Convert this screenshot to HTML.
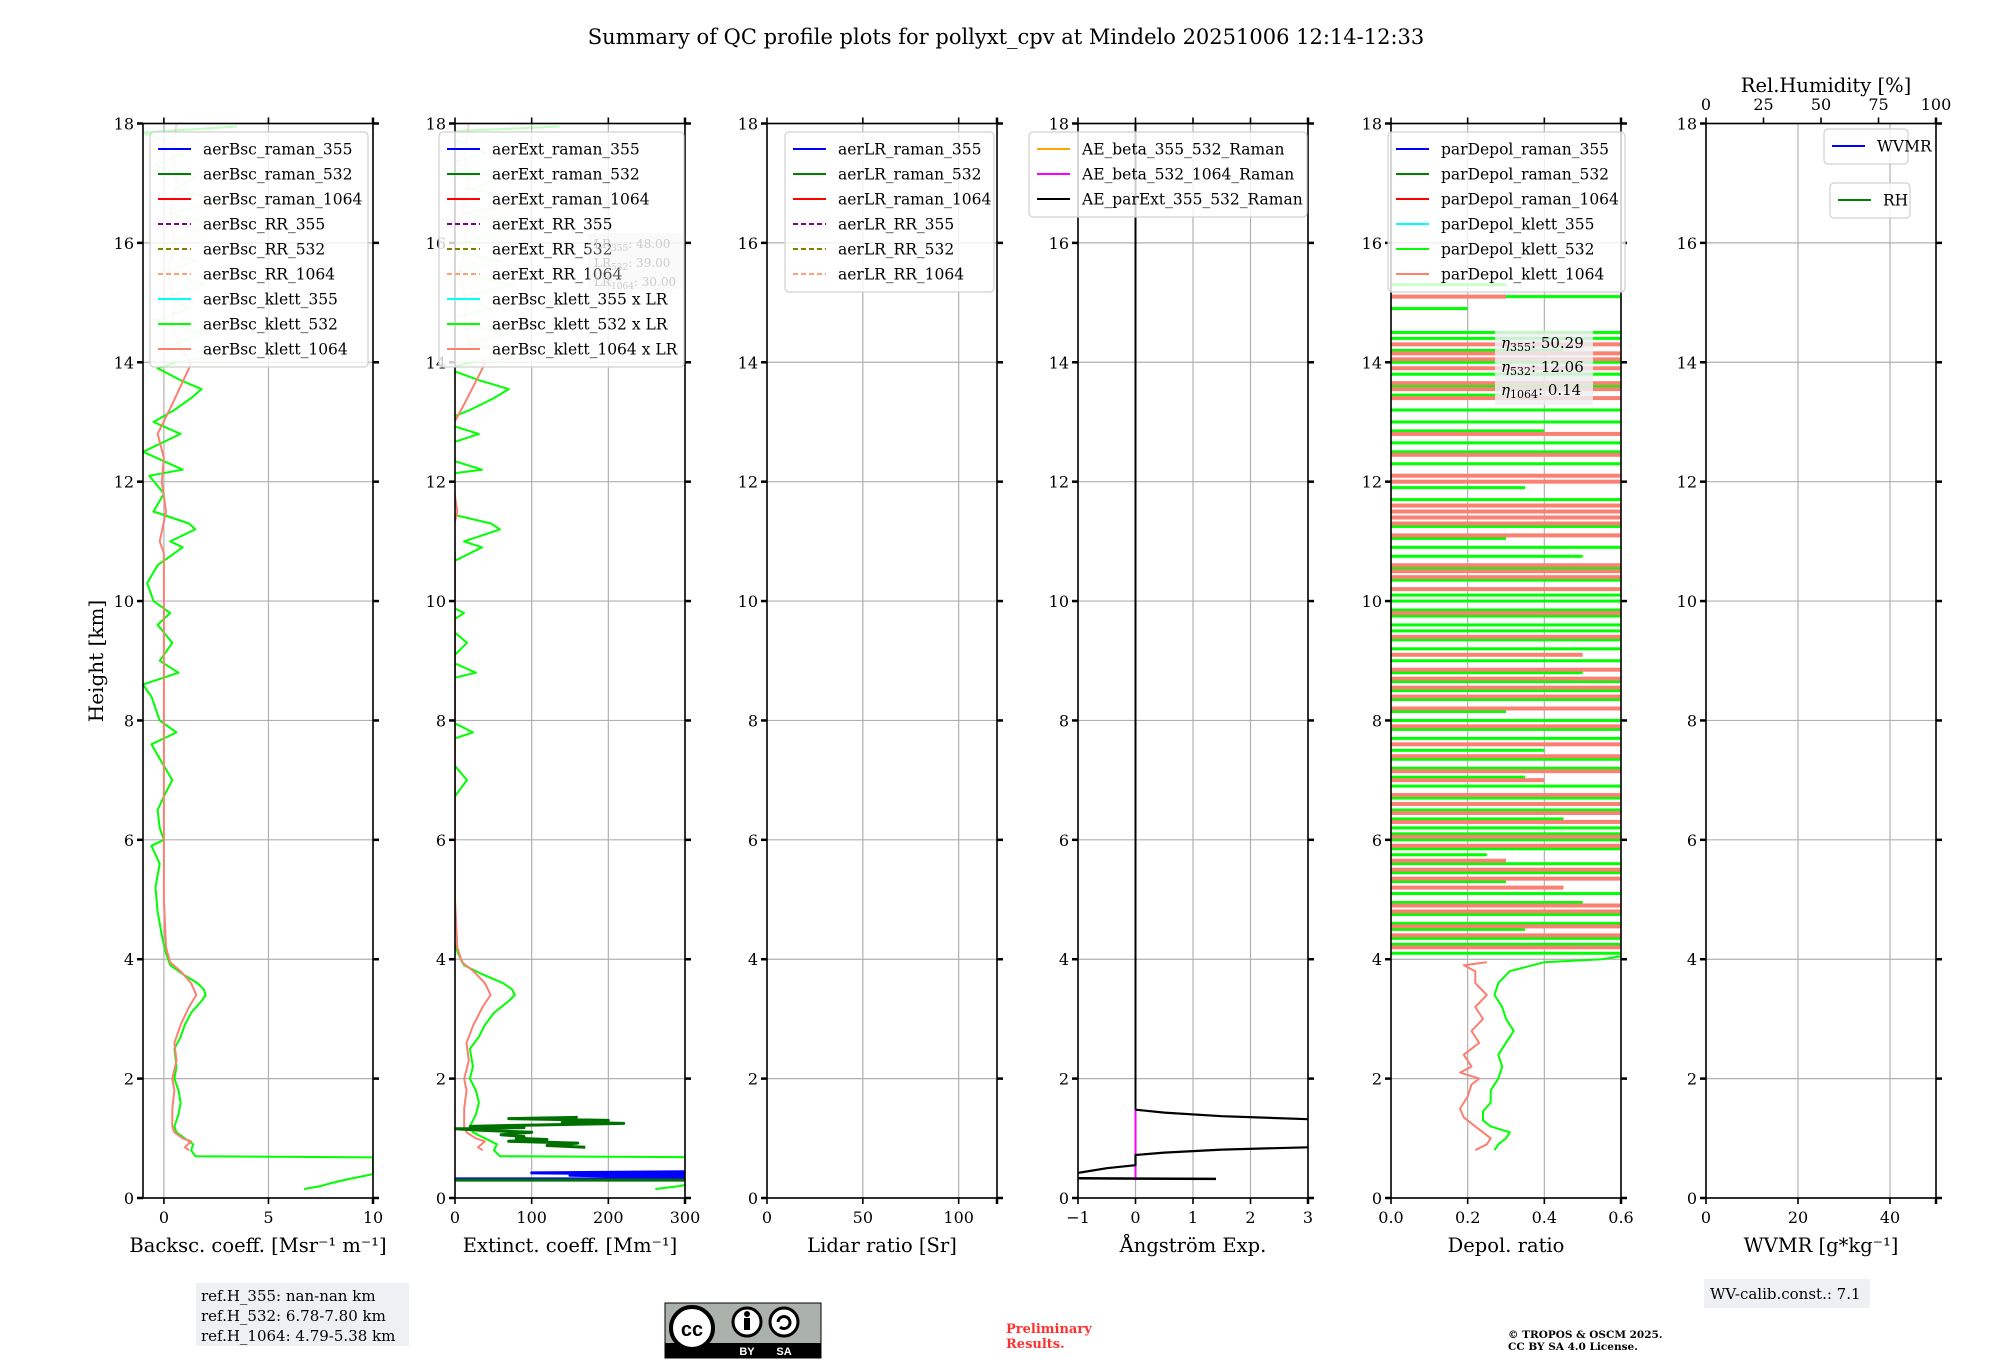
<!DOCTYPE html>
<html><head><meta charset="utf-8"><style>
html,body{margin:0;padding:0;background:#fff;}
svg{display:block;font-family:"DejaVu Serif","Liberation Serif",serif;}
</style></head><body>
<svg id="fig" width="2000" height="1360" viewBox="0 0 2000 1360" xmlns="http://www.w3.org/2000/svg">
<text x="1006" y="44" font-size="21" text-anchor="middle">Summary of QC profile plots for pollyxt_cpv at Mindelo 20251006 12:14-12:33</text>
<text transform="translate(103,661) rotate(-90)" font-size="20" text-anchor="middle">Height [km]</text>
<g id="plots"></g>
<rect x="196" y="1283" width="213" height="63" fill="#eff0f4"/>
<text x="201" y="1301" font-size="15">ref.H_355: nan-nan km</text>
<text x="201" y="1321" font-size="15">ref.H_532: 6.78-7.80 km</text>
<text x="201" y="1341" font-size="15">ref.H_1064: 4.79-5.38 km</text>
<g>
<rect x="665" y="1303" width="156" height="55" fill="#aab2ab" stroke="#000" stroke-width="1"/>
<rect x="665" y="1343" width="156" height="15" fill="#000"/>
<circle cx="692" cy="1328" r="21" fill="#fff" stroke="#000" stroke-width="4"/>
<text x="692" y="1336" font-size="20" font-weight="bold" text-anchor="middle" font-family="Liberation Sans,sans-serif">cc</text>
<circle cx="747" cy="1322" r="14" fill="#fff" stroke="#000" stroke-width="3"/>
<circle cx="747" cy="1314" r="3" fill="#000"/><rect x="744" y="1318" width="6" height="12" fill="#000"/>
<circle cx="784" cy="1322" r="14" fill="#fff" stroke="#000" stroke-width="3"/>
<path d="M778 1322 a6 6 0 1 1 2 5" fill="none" stroke="#000" stroke-width="3"/>
<text x="747" y="1355" font-size="11" fill="#fff" text-anchor="middle" font-family="Liberation Sans,sans-serif" font-weight="bold">BY</text>
<text x="784" y="1355" font-size="11" fill="#fff" text-anchor="middle" font-family="Liberation Sans,sans-serif" font-weight="bold">SA</text>
</g>
<text x="1006" y="1333" font-size="13" font-weight="bold" fill="#ff3030">Preliminary</text>
<text x="1006" y="1348" font-size="13" font-weight="bold" fill="#ff3030">Results.</text>
<text x="1508" y="1338" font-size="10.5" font-weight="bold">© TROPOS &amp; OSCM 2025.</text>
<text x="1508" y="1350" font-size="10.5" font-weight="bold">CC BY SA 4.0 License.</text>
<rect x="1704" y="1279" width="166" height="29" fill="#eff0f4"/>
<text x="1710" y="1299" font-size="15">WV-calib.const.: 7.1</text>
</svg>
<script>
// ---------- data ----------
const bscH532 = [0.15,0.2,0.25,0.3,0.4,0.68,0.7,0.8,0.9,1.0,1.1,1.2,1.4,1.6,1.8,2.0,2.2,2.5,2.7,2.9,3.1,3.3,3.4,3.5,3.6,3.75,3.9,4.1,4.4,4.8,5.2,5.6,5.9,6.0,6.2,6.5,6.8,7.0,7.3,7.6,7.8,8.0,8.4,8.6,8.8,9.0,9.3,9.6,9.8,10.0,10.3,10.6,10.9,11.0,11.2,11.3,11.5,11.8,12.1,12.2,12.5,12.8,13.0,13.2,13.4,13.55,13.7,13.9,14.0];
const bsc532 = [6.7,7.5,8.0,8.6,10,10,1.5,1.3,1.4,1.0,0.6,0.5,0.7,0.8,0.7,0.5,0.6,0.5,0.8,1.0,1.3,1.8,2.0,1.9,1.6,0.9,0.3,0.1,-0.1,-0.3,-0.4,-0.2,-0.6,0.0,-0.2,-0.3,0.1,0.4,-0.1,-0.6,0.6,-0.2,-0.6,-1.0,0.7,-0.2,0.4,-0.3,0.3,-0.5,-0.8,-0.3,0.9,0.3,1.5,1.2,-0.5,0.0,-0.7,0.9,-1.0,0.8,-0.5,0.5,1.3,1.8,0.8,-0.3,0.6];
const bscHiH532 = [14.0,14.1,14.3,14.5,14.7,14.9,15.1,15.3,15.5,15.7,15.9,16.1,16.3,16.5,16.7,16.9,17.1,17.3,17.5,17.7,17.85,17.95];
const bscHi532 = [0.6,2.5,0.5,1.8,-0.5,1.2,0.2,2.0,0.0,1.5,-0.3,1.0,2.2,0.3,2.8,0.5,1.5,-0.5,1.0,0.2,-1.0,3.5];
const bscH1064 = [0.8,0.85,0.95,1.0,1.1,1.2,1.5,1.8,2.0,2.3,2.6,2.9,3.2,3.4,3.6,3.8,3.95,4.2,5,6,7,8,9,10,10.8,11.0,11.5,12,12.4,12.8,13.3,13.6,13.9,14.0];
const bsc1064 = [1.2,1.0,1.3,0.9,0.5,0.4,0.4,0.5,0.4,0.6,0.5,0.8,1.2,1.55,1.3,0.8,0.3,0.1,0.0,0.0,0.0,0.0,0.0,0.0,0.0,-0.2,0.1,-0.1,0.0,-0.3,0.4,0.8,1.2,1.3];
const bscHiH1064 = [14.0,14.2,14.6,15,15.5,16,16.5,17,17.5,18];
const bscHi1064 = [1.3,0.8,0.4,0.5,0.2,0.5,0.3,0.6,0.4,0.6];
const lr532 = 39, lr1064 = 30;
const extRamanLowH532 = [0.3,0.3];
const extRamanLow532 = [0,300];
const extRamanH532 = [0.85,0.88,0.92,0.95,0.98,1.0,1.03,1.06,1.1,1.13,1.16,1.18,1.2,1.22,1.25,1.27,1.3,1.33,1.35];
const extRaman532 = [170,120,160,70,120,80,90,60,100,40,0,90,20,90,220,140,200,70,160];
const extRamanH355 = [0.32,0.32,0.35,0.38,0.4,0.42,0.44];
const extRaman355 = [0,300,300,150,300,100,300];
const aeLowH = [0.33,0.32];
const aeLow = [-1,1.4];
const aeMidH = [0.42,0.5,0.55,0.72,0.76,0.81,0.85];
const aeMid = [-1,-0.5,0,0,0.5,1.5,3];
const aeTopH = [1.48,1.43,1.37,1.32];
const aeTop = [0,0.5,1.5,3];
const depH1064 = [0.8,0.9,1.0,1.1,1.2,1.35,1.5,1.7,1.9,2.0,2.1,2.2,2.4,2.6,2.8,3.0,3.2,3.4,3.6,3.8,3.9,3.95];
const dep1064 = [0.22,0.25,0.26,0.24,0.22,0.19,0.18,0.2,0.21,0.23,0.18,0.21,0.19,0.23,0.21,0.24,0.22,0.25,0.22,0.22,0.19,0.25];
const depH532 = [0.8,0.9,1.0,1.1,1.2,1.3,1.45,1.6,1.8,2.0,2.2,2.4,2.6,2.8,3.0,3.2,3.4,3.6,3.8,3.95,4.0,4.05];
const dep532 = [0.27,0.28,0.30,0.31,0.26,0.24,0.24,0.26,0.26,0.28,0.29,0.28,0.30,0.32,0.30,0.29,0.27,0.28,0.31,0.4,0.55,0.6];
const depBarH532 = [4.1,4.25,4.35,4.5,4.6,4.75,4.95,5.1,5.3,5.45,5.6,5.75,5.85,6.0,6.1,6.2,6.35,6.5,6.7,6.9,7.05,7.2,7.35,7.5,7.7,7.85,8.0,8.15,8.35,8.5,8.65,8.8,9.0,9.2,9.35,9.5,9.6,9.75,9.85,10.0,10.1,10.35,10.55,10.75,10.9,11.05,11.25,11.5,11.7,11.9,12.1,12.3,12.5,12.65,12.85,13.0,13.2,13.45,13.6,13.8,14.0,14.2,14.4,14.5,14.9,15.1,15.3];
const depBar532 = [0.6,0.6,0.6,0.35,0.6,0.6,0.5,0.6,0.3,0.6,0.6,0.25,0.6,0.6,0.6,0.6,0.45,0.6,0.6,0.6,0.35,0.6,0.6,0.4,0.6,0.6,0.6,0.3,0.6,0.6,0.6,0.5,0.6,0.6,0.6,0.6,0.6,0.6,0.6,0.6,0.6,0.6,0.6,0.5,0.6,0.3,0.6,0.6,0.6,0.35,0.6,0.6,0.6,0.6,0.4,0.6,0.6,0.3,0.6,0.6,0.6,0.45,0.6,0.6,0.2,0.6,0.3];
const depBarH1064 = [4.2,4.4,4.55,4.8,4.9,5.2,5.35,5.5,5.65,5.9,6.05,6.3,6.45,6.6,6.75,7.0,7.15,7.4,7.6,7.9,8.2,8.4,8.55,8.7,8.85,9.1,9.4,9.8,10.2,10.4,10.5,10.6,11.1,11.3,11.4,11.5,11.6,12.0,12.1,12.45,12.8,13.4,13.55,13.65,13.9,14.05,14.15,14.3,15.1];
const depBar1064 = [0.6,0.6,0.6,0.6,0.6,0.45,0.6,0.6,0.3,0.6,0.6,0.6,0.6,0.6,0.6,0.4,0.6,0.6,0.6,0.6,0.6,0.6,0.6,0.6,0.6,0.5,0.6,0.6,0.6,0.6,0.6,0.6,0.6,0.6,0.6,0.6,0.6,0.6,0.6,0.6,0.6,0.6,0.6,0.6,0.6,0.6,0.6,0.6,0.3];
const yTicks = [0,2,4,6,8,10,12,14,16,18];

// ---------- layout ----------
const NS = "http://www.w3.org/2000/svg";
const root = document.getElementById('plots');
const TOP = 123.5, BOT = 1198, W = 230;
function sy(h){ return BOT - (h/18)*(BOT-TOP); }
const panels = [
 {name:'backscatter', left:143, xmin:-1, xmax:10, ticks:[0,5,10], tl:['0','5','10'], label:'Backsc. coeff. [Msr\u207B\u00B9 m\u207B\u00B9]'},
 {name:'extinction', left:455, xmin:0, xmax:300, ticks:[0,100,200,300], tl:['0','100','200','300'], label:'Extinct. coeff. [Mm\u207B\u00B9]'},
 {name:'lidar-ratio', left:767, xmin:0, xmax:120, ticks:[0,50,100], tl:['0','50','100'], label:'Lidar ratio [Sr]'},
 {name:'angstrom', left:1078, xmin:-1, xmax:3, ticks:[-1,0,1,2,3], tl:['\u22121','0','1','2','3'], label:'\u00C5ngstr\u00F6m Exp.'},
 {name:'depol', left:1391, xmin:0, xmax:0.6, ticks:[0,0.2,0.4,0.6], tl:['0.0','0.2','0.4','0.6'], label:'Depol. ratio'},
 {name:'wvmr', left:1706, xmin:0, xmax:50, ticks:[0,20,40], tl:['0','20','40'], label:'WVMR [g*kg\u207B\u00B9]'}
];
function mk(tag, attrs, parent){
  const e = document.createElementNS(NS, tag);
  for (const k in attrs) e.setAttribute(k, attrs[k]);
  (parent||root).appendChild(e);
  return e;
}
function sxf(p){ return v => p.left + (v-p.xmin)/(p.xmax-p.xmin)*W; }
function line(p, g, xs, hs, color, width, opacity){
  const sx = sxf(p);
  const pts = xs.map((v,i)=> sx(v).toFixed(1)+','+sy(hs[i]).toFixed(1)).join(' ');
  return mk('polyline', {points:pts, fill:'none', stroke:color, 'stroke-width':width||2, 'stroke-opacity':opacity||1, 'stroke-linejoin':'round'}, g);
}
function bars(p, g, vals, hs, color, th){
  const sx = sxf(p);
  vals.forEach((v,i)=>{
    const r = mk('rect', {x:sx(0), y:sy(hs[i])-th/2, width:Math.max(0,sx(v)-sx(0)), height:th, fill:color}, g);
    
    
  });
}

panels.forEach((p,idx)=>{
  const sx = sxf(p);
  const g = mk('g', {});
  
  
  const clip = mk('clipPath', {id:'clip'+idx}, g);
  mk('rect', {x:p.left, y:TOP, width:W, height:BOT-TOP}, clip);
  yTicks.forEach(t=>{ mk('line',{x1:p.left,x2:p.left+W,y1:sy(t),y2:sy(t),stroke:'#b0b0b0','stroke-width':1.2},g); });
  p.ticks.forEach(t=>{ mk('line',{x1:sx(t),x2:sx(t),y1:TOP,y2:BOT,stroke:'#b0b0b0','stroke-width':1.2},g); });
  const data = mk('g', {'clip-path':'url(#clip'+idx+')'}, g);
  
  
  if (idx===0){
    line(p,data,bscHi532,bscHiH532,'#00ff00',2,0.25);
    line(p,data,bscHi1064,bscHiH1064,'#fa8072',2,0.3);
    line(p,data,bsc532,bscH532,'#00ff00',2);
    line(p,data,bsc1064,bscH1064,'#fa8072',2);
  } else if (idx===1){
    line(p,data,bscHi532.map(v=>v*lr532),bscHiH532,'#00ff00',2,0.25);
    line(p,data,bscHi1064.map(v=>v*lr1064),bscHiH1064,'#fa8072',2,0.3);
    line(p,data,bsc532.map(v=>v*lr532),bscH532,'#00ff00',2);
    line(p,data,bsc1064.map(v=>v*lr1064),bscH1064,'#fa8072',2);
    line(p,data,extRaman355,extRamanH355,'#0000ff',3);
    line(p,data,extRamanLow532,extRamanLowH532,'#007000',3);
    line(p,data,extRaman532,extRamanH532,'#007000',3);
  } else if (idx===3){
    line(p,data,[0,0],[0.3,1.5],'#ff00ff',2);
    line(p,data,[0,0],[1.48,18],'#000',2);
    line(p,data,aeLow,aeLowH,'#000',2.5);
    line(p,data,aeMid,aeMidH,'#000',2.2);
    line(p,data,aeTop,aeTopH,'#000',2.2);
  } else if (idx===4){
    bars(p,data,depBar532,depBarH532,'#00ff00',3);
    bars(p,data,depBar1064,depBarH1064,'#fa8072',4);
    line(p,data,dep1064,depH1064,'#fa8072',2);
    line(p,data,dep532,depH532,'#00ff00',2);
  }
  mk('rect',{x:p.left,y:TOP,width:W,height:BOT-TOP,fill:'none',stroke:'#000','stroke-width':1.6},g);
  yTicks.forEach(t=>{
    mk('line',{x1:p.left-6,x2:p.left,y1:sy(t),y2:sy(t),stroke:'#000','stroke-width':2.5},g);
    mk('line',{x1:p.left+W,x2:p.left+W+6,y1:sy(t),y2:sy(t),stroke:'#000','stroke-width':2.5},g);
    const tx = mk('text',{x:p.left-9,y:sy(t)+6,'font-size':16,'text-anchor':'end'},g);
    tx.textContent = String(t);
    
    
  });
  p.ticks.forEach((t,i)=>{
    mk('line',{x1:sx(t),x2:sx(t),y1:BOT,y2:BOT+6,stroke:'#000','stroke-width':1.6},g);
    if (idx!==5) mk('line',{x1:sx(t),x2:sx(t),y1:TOP-6,y2:TOP,stroke:'#000','stroke-width':1.6},g);
    const tx = mk('text',{x:sx(t),y:BOT+25,'font-size':16,'text-anchor':'middle'},g);
    tx.textContent = p.tl[i];
    
    
  });
  mk('line',{x1:p.left+W,x2:p.left+W,y1:TOP-6,y2:TOP,stroke:'#000','stroke-width':2.5},g);
  mk('line',{x1:p.left+W,x2:p.left+W,y1:BOT,y2:BOT+6,stroke:'#000','stroke-width':2.5},g);
  const xl = mk('text',{x:p.left+W/2,y:1252,'font-size':19.5,'text-anchor':'middle'},g);
  xl.textContent = p.label;
  
  
});

const rhTicks = [0,25,50,75,100];
rhTicks.forEach(t=>{
  const x = 1706 + t/100*W;
  mk('line',{x1:x,x2:x,y1:TOP-6,y2:TOP,stroke:'#000','stroke-width':1.6});
  const tx = mk('text',{x:x,y:110,'font-size':16,'text-anchor':'middle'});
  tx.textContent = String(t);
  
  
});
const rht = mk('text',{x:1826,y:92,'font-size':19.5,'text-anchor':'middle'});
rht.textContent = 'Rel.Humidity [%]';



function legend(x, y, w, entries, name){
  const g = mk('g',{});
  
  
  mk('rect',{x:x,y:y,width:w,height:entries.length*25+10,rx:4,fill:'#fff','fill-opacity':0.8,stroke:'#d0d0d0','stroke-width':1.2},g);
  entries.forEach((e,i)=>{
    const cy = y+17+i*25;
    mk('line',{x1:x+8,x2:x+41,y1:cy,y2:cy,stroke:e[1],'stroke-width':2,'stroke-dasharray':e[2]?'5,3':'none'},g);
    const t = mk('text',{x:x+53,y:cy+5.5,'font-size':15.5},g);
    t.textContent = e[0];
    
    
  });
}
const cols = ['#0000ff','#008000','#ff0000','#800080','#808000','#ffa07a','#00ffff','#00ff00','#fa8072'];
const dashed = [0,0,0,1,1,1,0,0,0];
legend(150,132,218,['aerBsc_raman_355','aerBsc_raman_532','aerBsc_raman_1064','aerBsc_RR_355','aerBsc_RR_532','aerBsc_RR_1064','aerBsc_klett_355','aerBsc_klett_532','aerBsc_klett_1064'].map((n,i)=>[n,cols[i],dashed[i]]),'backscatter-legend');
legend(439,132,245,['aerExt_raman_355','aerExt_raman_532','aerExt_raman_1064','aerExt_RR_355','aerExt_RR_532','aerExt_RR_1064','aerBsc_klett_355 x LR','aerBsc_klett_532 x LR','aerBsc_klett_1064 x LR'].map((n,i)=>[n,cols[i],dashed[i]]),'extinction-legend');
legend(785,132,209,['aerLR_raman_355','aerLR_raman_532','aerLR_raman_1064','aerLR_RR_355','aerLR_RR_532','aerLR_RR_1064'].map((n,i)=>[n,cols[i],dashed[i]]),'lidar-ratio-legend');
legend(1029,132,278,[['AE_beta_355_532_Raman','#ffa500'],['AE_beta_532_1064_Raman','#ff00ff'],['AE_parExt_355_532_Raman','#000']],'angstrom-legend');
legend(1388,132,237,[['parDepol_raman_355','#0000ff'],['parDepol_raman_532','#008000'],['parDepol_raman_1064','#ff0000'],['parDepol_klett_355','#00ffff'],['parDepol_klett_532','#00ff00'],['parDepol_klett_1064','#fa8072']],'depol-legend');
legend(1824,129,84,[['WVMR','#0000ff']],'wvmr-legend');
legend(1830,183,80,[['RH','#008000']],'rh-legend');

const lrg = mk('g',{});


mk('rect',{x:588,y:233,width:96,height:56,fill:'#eee','fill-opacity':0.3},lrg);
[['LR','355',': 48.00',248],['LR','532',': 39.00',267],['LR','1064',': 30.00',286]].forEach(a=>{
  const t = mk('text',{x:594,y:a[3],'font-size':12,fill:'#ccc'},lrg);
  t.innerHTML = a[0]+'<tspan font-size="9" dy="3">'+a[1]+'</tspan><tspan dy="-3">'+a[2]+'</tspan>';
});
const eg = mk('g',{});


mk('rect',{x:1495,y:331,width:98,height:74,fill:'#eff0f2','fill-opacity':0.85},eg);
[['355',': 50.29',348],['532',': 12.06',372],['1064',': 0.14',395]].forEach(a=>{
  const t = mk('text',{x:1501,y:a[2],'font-size':15},eg);
  t.innerHTML = '<tspan font-style="italic">\u03B7</tspan><tspan font-size="11" dy="3">'+a[0]+'</tspan><tspan dy="-3">'+a[1]+'</tspan>';
});
</script>
</body></html>
